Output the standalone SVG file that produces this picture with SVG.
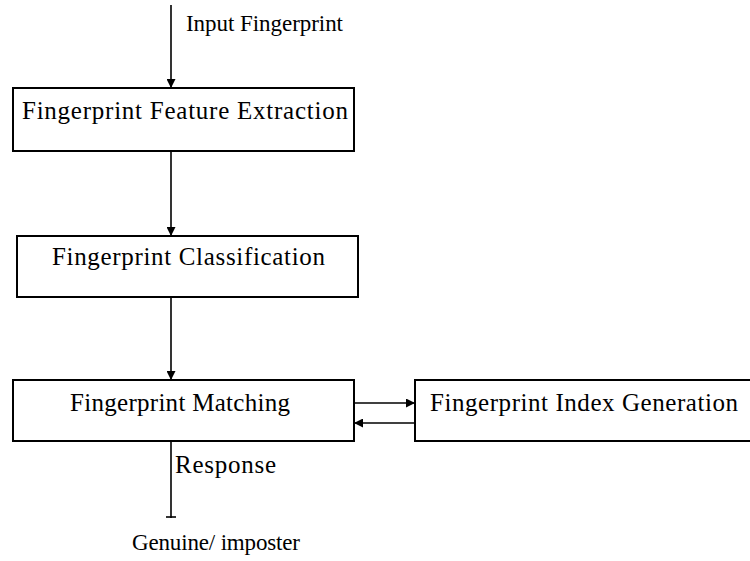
<svg xmlns="http://www.w3.org/2000/svg" width="750" height="561" viewBox="0 0 750 561">
<style>
.box{fill:#fff;stroke:#000;stroke-width:2}
.t{font-family:"Liberation Serif","Times New Roman",serif;font-size:25px;fill:#000}
.s{font-size:23px}
.ln{stroke:#000;stroke-width:1.6;fill:none}
</style>
<defs>
<marker id="ah" viewBox="0 0 10 10" refX="10" refY="5" markerWidth="9" markerHeight="9" orient="auto" markerUnits="userSpaceOnUse">
<path d="M0,0 L10,5 L0,10 z" fill="#000"/>
</marker>
</defs>
<rect width="750" height="561" fill="#fff"/>
<g id="connectors">
<line class="ln" x1="171" y1="5" x2="171" y2="88" marker-end="url(#ah)"/>
<line class="ln" x1="171" y1="151" x2="171" y2="236" marker-end="url(#ah)"/>
<line class="ln" x1="171" y1="297" x2="171" y2="380" marker-end="url(#ah)"/>
<line class="ln" x1="354" y1="403" x2="415" y2="403" marker-end="url(#ah)"/>
<line class="ln" x1="415" y1="423" x2="354" y2="423" marker-end="url(#ah)"/>
<line class="ln" x1="171" y1="441" x2="171" y2="518"/>
<line class="ln" x1="166" y1="517" x2="176" y2="517"/>
</g>
<g id="input-label"><text class="t s" x="186" y="31" textLength="157">Input Fingerprint</text></g>
<g id="feature-extraction">
<rect class="box" x="13" y="88" width="341" height="63"/>
<text class="t" x="22" y="119" textLength="326">Fingerprint Feature Extraction</text>
</g>
<g id="classification">
<rect class="box" x="17" y="236" width="341" height="61"/>
<text class="t" x="52" y="265" textLength="273">Fingerprint Classification</text>
</g>
<g id="matching">
<rect class="box" x="13" y="380" width="341" height="61"/>
<text class="t" x="70" y="411" textLength="220">Fingerprint Matching</text>
</g>
<g id="index-generation">
<rect class="box" x="415" y="380" width="340" height="61"/>
<text class="t" x="430" y="411" textLength="308">Fingerprint Index Generation</text>
</g>
<g id="response-label"><text class="t" x="175" y="473" textLength="101">Response</text></g>
<g id="output-label"><text class="t s" x="132" y="550" textLength="168">Genuine/ imposter</text></g>
</svg>
